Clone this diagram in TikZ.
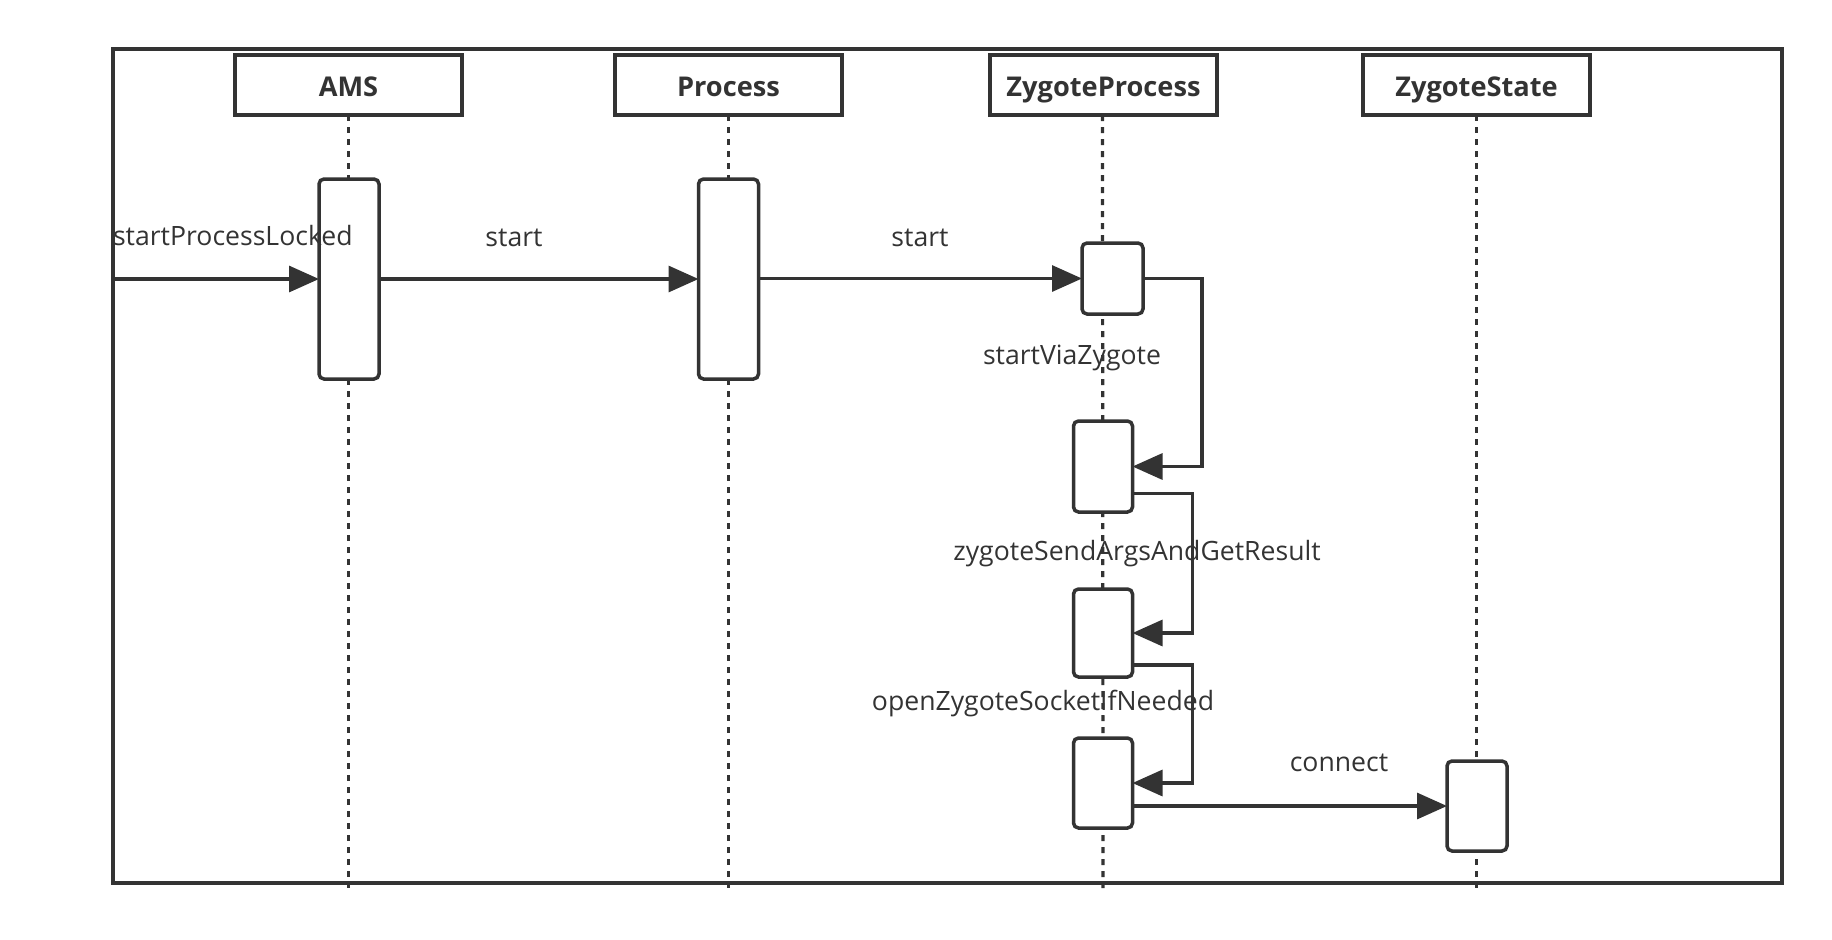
\documentclass[tikz,border=0pt]{standalone}
\usepackage{fontspec}
\setmainfont{Open Sans}
\usetikzlibrary{arrows.meta}
\definecolor{ink}{HTML}{333333}
\begin{document}
\begin{tikzpicture}[x=0.5pt,y=-0.5pt,
  every node/.style={inner sep=0pt,outer sep=0pt},
  line/.style={draw=ink,line width=1.75pt},
  head/.style={line,rectangle,fill=white,minimum width=113.5pt,minimum height=30pt,font=\fontsize{13.6}{15}\selectfont\bfseries,text=ink,text height=11.4pt,text depth=0pt},
  act/.style={line,rectangle,rounded corners=2.5pt,fill=white},
  life/.style={draw=ink,line width=1.6pt,dash pattern=on 3pt off 3pt},
  msg/.style={draw=ink,line width=1.6pt,-{Triangle[length=15pt,width=13pt]}},
  lbl/.style={font=\fontsize{13.3}{15}\selectfont,text=ink}]
\useasboundingbox (0,0) rectangle (1832,939);
\node[line,rectangle,minimum width=834.5pt,minimum height=417pt] (frame) at (947.5,466) {};
% headers
\node[head] (ams) at (348.5,85) {AMS};
\node[head] (proc) at (728.5,85) {Process};
\node[head] (zp) at (1103.5,85) {ZygoteProcess};
\node[head] (zs) at (1476.5,85) {ZygoteState};
% lifeline ends
\coordinate (amsend) at (348.5,888);
\coordinate (procend) at (728.5,888);
\coordinate (zpend) at (1103,888);
\coordinate (zsend) at (1476.5,888);
\draw[life] (ams.south) -- (amsend);
\draw[life] (proc.south) -- (procend);
\draw[life] ([xshift=-0.5pt]zp.south) -- (zpend);
\draw[life] (zs.south) -- (zsend);
% activations
\node[act,minimum width=30pt,minimum height=100pt] (amsact) at (349,279) {};
\node[act,minimum width=30pt,minimum height=100pt] (procact) at (728.5,279) {};
\node[act,minimum width=30.5pt,minimum height=35.5pt] (zp1) at (1112.5,278.5) {};
\node[act,minimum width=29.5pt,minimum height=45.5pt] (zp2) at (1103,466.5) {};
\node[act,minimum width=29.5pt,minimum height=44pt] (zp3) at (1103,633) {};
\node[act,minimum width=29.5pt,minimum height=45pt] (zp4) at (1103,783) {};
\node[act,minimum width=30pt,minimum height=45pt] (zsact) at (1477,806) {};
% messages
\draw[msg] (frame.west |- amsact.west) -- (amsact.west);
\draw[msg] (amsact.east) -- (procact.west);
\draw[msg] (procact.east |- zp1.west) -- (zp1.west);
\draw[msg] (zp1.east) -- ++(59,0) |- (zp2.east);
\draw[msg] ([yshift=-13.5pt]zp2.east) -- ++(60,0) |- (zp3.east);
\draw[msg] ([yshift=-16pt]zp3.east) -- ++(60,0) |- (zp4.east);
\draw[msg] (zp4.east |- zsact.west) -- (zsact.west);
% labels
\node[lbl,anchor=west] (l1) at (113,236) {startProcessLocked};
\node[lbl] (l2) at (514,238) {start};
\node[lbl] (l3) at (920,238) {start};
\node[lbl] (l4) at (1072,358) {startViaZygote};
\node[lbl] (l5) at (1137,554) {zygoteSendArgsAndGetResult};
\node[lbl] (l6) at (1043,704) {openZygoteSocketIfNeeded};
\node[lbl] (l7) at (1339,763) {connect};
\end{tikzpicture}
\end{document}
